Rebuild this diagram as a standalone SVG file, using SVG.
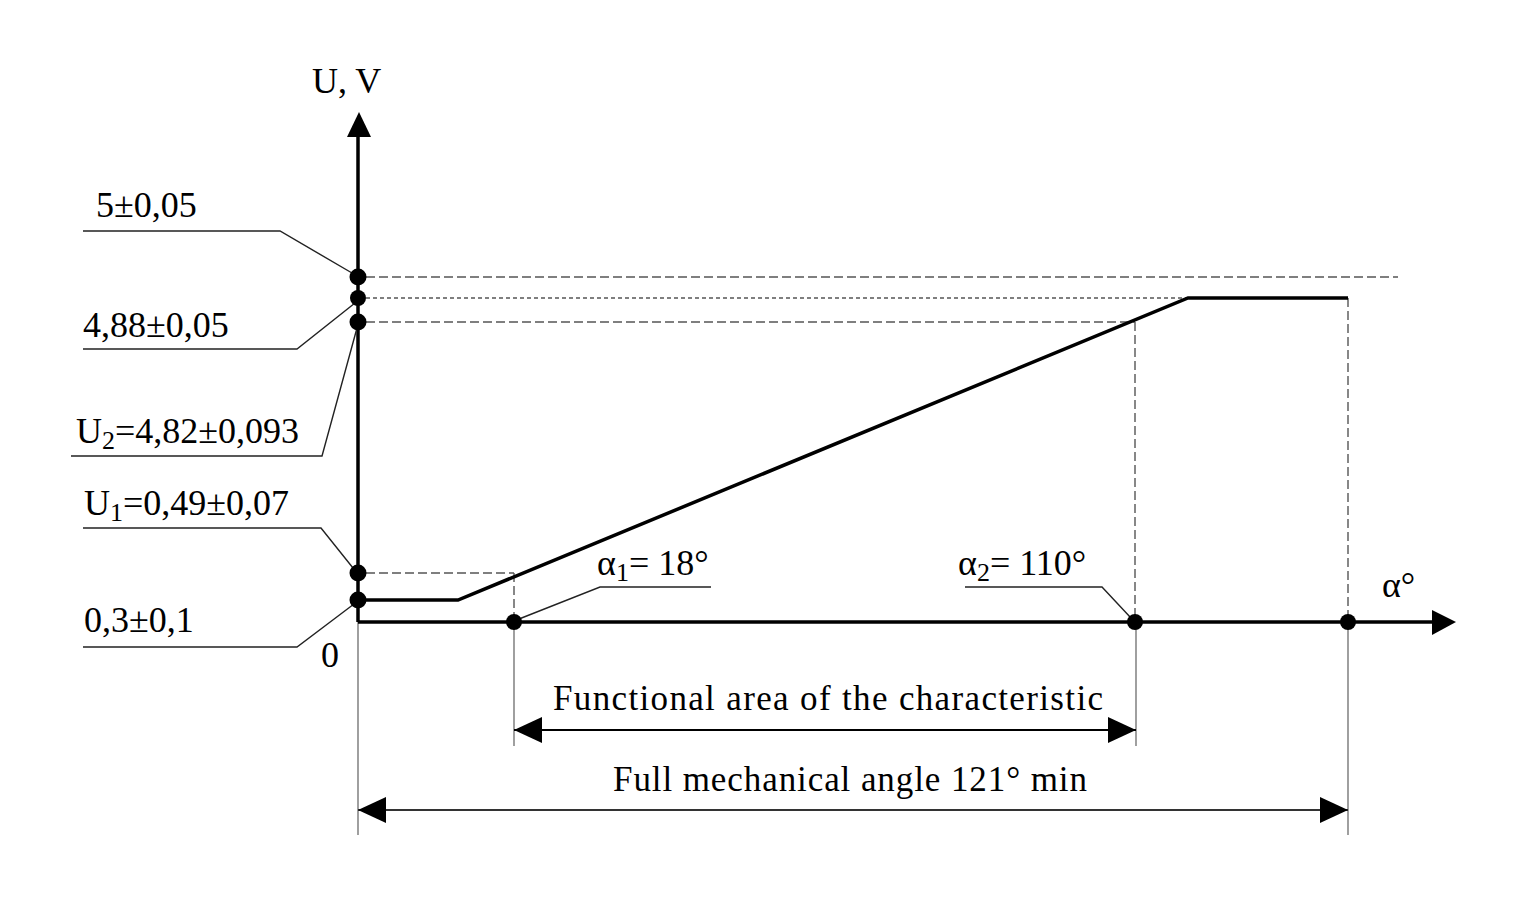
<svg xmlns="http://www.w3.org/2000/svg" width="1523" height="897" viewBox="0 0 1523 897">
<defs>
<style>
.t{font-family:"Liberation Serif","Times New Roman",serif;font-size:36px;fill:#000}
.s{font-size:26px}
.ax{stroke:#000;stroke-width:3.5;fill:none}
.cv{stroke:#000;stroke-width:3.5;fill:none;stroke-linejoin:miter}
.ld{stroke:#222;stroke-width:1.4;fill:none}
.dl{stroke:#555;stroke-width:1.4;fill:none;stroke-dasharray:9 4}
.ds{stroke:#555;stroke-width:1.4;fill:none;stroke-dasharray:4 3}
.ex{stroke:#777;stroke-width:1.4;fill:none}
.dim{stroke:#000;stroke-width:2.2;fill:none}
.dot{fill:#000}
</style>
<marker id="ah" viewBox="0 0 28 26" refX="28" refY="13" markerWidth="28" markerHeight="26" markerUnits="userSpaceOnUse" orient="auto-start-reverse">
<path d="M0,0 L28,13 L0,26 z" fill="#000"/>
</marker>
</defs>
<rect width="1523" height="897" fill="#fff"/>

<g id="guides">
<line class="dl" x1="366" y1="277" x2="1398" y2="277"/>
<line class="ds" x1="366" y1="298" x2="1188" y2="298"/>
<line class="dl" x1="366" y1="322" x2="1135" y2="322"/>
<line class="dl" x1="366" y1="573" x2="514" y2="573"/>
<line class="dl" x1="514" y1="573" x2="514" y2="622"/>
<line class="dl" x1="1135" y1="322" x2="1135" y2="622"/>
<line class="dl" x1="1348" y1="298" x2="1348" y2="622"/>
<line class="ex" x1="358" y1="622" x2="358" y2="835"/>
<line class="ex" x1="514" y1="622" x2="514" y2="746"/>
<line class="ex" x1="1136" y1="622" x2="1136" y2="746"/>
<line class="ex" x1="1348" y1="622" x2="1348" y2="835"/>
</g>

<g id="axes">
<line class="ax" x1="358" y1="622" x2="358" y2="135"/>
<polygon points="359,112 347,137 371,137" fill="#000"/>
<line class="ax" x1="358" y1="622" x2="1434" y2="622"/>
<polygon points="1456,622 1432,610 1432,635" fill="#000"/>
<text class="t" x="312" y="93">U, V</text>
<text class="t" x="1382" y="597">α°</text>
<text class="t" x="321" y="667">0</text>
</g>

<g id="curve">
<polyline class="cv" points="358,600 458,600 1188,298 1348,298"/>
</g>

<g id="connectors">
<polyline class="ld" points="83,231 280,231 352,273"/>
<polyline class="ld" points="83,349 297,349 355,303"/>
<polyline class="ld" points="71,456 322,456 357,328"/>
<polyline class="ld" points="83,528 321,528 353,568"/>
<polyline class="ld" points="83,647 297,647 354,604"/>
<polyline class="ld" points="711,587 600,587 519,619"/>
<polyline class="ld" points="965,587 1102,587 1131,618"/>
</g>

<g id="points">
<circle class="dot" cx="358" cy="277" r="8.5"/>
<circle class="dot" cx="358" cy="298" r="8"/>
<circle class="dot" cx="358" cy="322" r="8.5"/>
<circle class="dot" cx="358" cy="573" r="8.5"/>
<circle class="dot" cx="358" cy="600" r="8.5"/>
<circle class="dot" cx="514" cy="622" r="8"/>
<circle class="dot" cx="1135" cy="622" r="8"/>
<circle class="dot" cx="1348" cy="622" r="8"/>
</g>

<g id="label-5">
<text class="t" x="96" y="217">5±0,05</text>
</g>
<g id="label-488">
<text class="t" x="83" y="337">4,88±0,05</text>
</g>
<g id="label-u2">
<text class="t" x="76" y="443">U<tspan class="s" dy="6">2</tspan><tspan dy="-6">=4,82±0,093</tspan></text>
</g>
<g id="label-u1">
<text class="t" x="84" y="515">U<tspan class="s" dy="6">1</tspan><tspan dy="-6">=0,49±0,07</tspan></text>
</g>
<g id="label-03">
<text class="t" x="84" y="632">0,3±0,1</text>
</g>
<g id="label-a1">
<text class="t" x="597" y="575">α<tspan class="s" dy="6">1</tspan><tspan dy="-6">= 18°</tspan></text>
</g>
<g id="label-a2">
<text class="t" x="958" y="575">α<tspan class="s" dy="6">2</tspan><tspan dy="-6">= 110°</tspan></text>
</g>

<g id="dim-functional">
<line class="dim" x1="514" y1="730" x2="1136" y2="730" marker-start="url(#ah)" marker-end="url(#ah)"/>
<text class="t" x="553" y="710" style="font-size:35px" textLength="550" lengthAdjust="spacing">Functional area of the characteristic</text>
</g>
<g id="dim-full">
<line class="dim" x1="358" y1="810" x2="1348" y2="810" marker-start="url(#ah)" marker-end="url(#ah)" style="stroke:#333"/>
<text class="t" x="613" y="791" style="font-size:35px" textLength="474" lengthAdjust="spacing">Full mechanical angle 121° min</text>
</g>
</svg>
